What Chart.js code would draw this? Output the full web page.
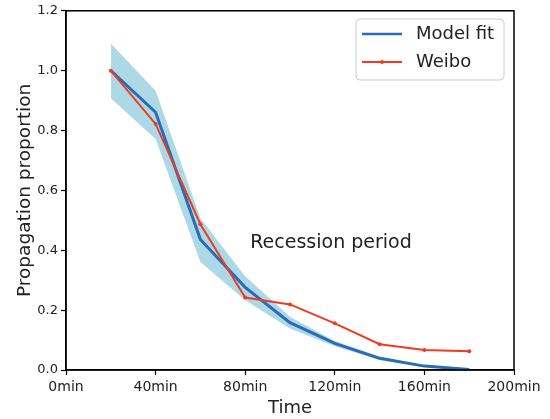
<!DOCTYPE html>
<html>
<head>
<meta charset="utf-8">
<script src="https://cdn.jsdelivr.net/npm/chart.js@4/dist/chart.umd.min.js"></script>
<style>
  html, body { margin: 0; padding: 0; background: #fff; }
  #wrap { width: 550px; height: 419px; }
</style>
</head>
<body>
<div id="wrap"><canvas id="propagationChart"></canvas></div>
<script>
const times = [20, 40, 60, 80, 100, 120, 140, 160, 180];
const modelFit = [1.0, 0.861, 0.436, 0.276, 0.158, 0.089, 0.039, 0.013, 0.002];
const bandUpper = [1.091, 0.933, 0.507, 0.313, 0.178, 0.097, 0.045, 0.016, 0.003];
const bandLower = [0.908, 0.772, 0.361, 0.233, 0.139, 0.079, 0.033, 0.010, 0.001];
const weibo = [1.0, 0.822, 0.487, 0.242, 0.219, 0.156, 0.086, 0.067, 0.063];
const xTicks = [0, 40, 80, 120, 160, 200];
const yTicks = [0, 0.2, 0.4, 0.6, 0.8, 1.0, 1.2];

const FONT = '"DejaVu Sans", sans-serif';
const BLUE = '#2b6cb5';
const RED = '#f03b20';

const toPoints = (ys) => times.map((t, i) => ({ x: t, y: ys[i] }));

const framePlugin = {
    id: 'frame',
    afterDraw(chart) {
        const { ctx, chartArea: a } = chart;
        ctx.save();
        ctx.strokeStyle = '#000';
        ctx.lineWidth = 1.5;
        ctx.strokeRect(a.left, a.top, a.right - a.left, a.bottom - a.top);

        // annotation
        ctx.fillStyle = '#222';
        ctx.font = '19px ' + FONT;
        ctx.textAlign = 'center';
        ctx.textBaseline = 'middle';
        const xs = chart.scales.x, ys = chart.scales.y;
        ctx.fillText('Recession period', xs.getPixelForValue(118.3), ys.getPixelForValue(0.423));

        // legend
        const lx = 356, ly = 19, lw = 148, lh = 61;
        ctx.beginPath();
        ctx.roundRect(lx, ly, lw, lh, 4);
        ctx.fillStyle = 'rgba(255,255,255,0.85)';
        ctx.fill();
        ctx.strokeStyle = '#cccccc';
        ctx.lineWidth = 1;
        ctx.stroke();

        ctx.lineWidth = 2.5;
        ctx.strokeStyle = BLUE;
        ctx.beginPath();
        ctx.moveTo(362, 34);
        ctx.lineTo(402, 34);
        ctx.stroke();

        ctx.lineWidth = 1.8;
        ctx.strokeStyle = RED;
        ctx.beginPath();
        ctx.moveTo(362, 62);
        ctx.lineTo(402, 62);
        ctx.stroke();
        ctx.fillStyle = RED;
        ctx.beginPath();
        ctx.arc(382, 62, 2, 0, Math.PI * 2);
        ctx.fill();

        ctx.fillStyle = '#222';
        ctx.textAlign = 'left';
        ctx.font = '18px ' + FONT;
        ctx.fillText('Model fit', 416, 34);
        ctx.fillText('Weibo', 416, 62);
        ctx.restore();
    },
};

new Chart(document.getElementById('propagationChart'), {
    type: 'line',
    data: {
        datasets: [
            {
                label: 'band upper',
                data: toPoints(bandUpper),
                borderWidth: 0,
                pointRadius: 0,
                backgroundColor: '#add8e6',
                fill: '+1',
                tension: 0,
                order: 3,
            },
            {
                label: 'band lower',
                data: toPoints(bandLower),
                borderWidth: 0,
                pointRadius: 0,
                backgroundColor: '#add8e6',
                fill: false,
                tension: 0,
                order: 4,
            },
            {
                label: 'Model fit',
                data: toPoints(modelFit),
                borderColor: BLUE,
                borderWidth: 3,
                pointRadius: 0,
                fill: false,
                tension: 0,
                order: 2,
            },
            {
                label: 'Weibo',
                data: toPoints(weibo),
                borderColor: RED,
                backgroundColor: RED,
                borderWidth: 2,
                pointRadius: 2,
                pointBorderWidth: 0,
                fill: false,
                tension: 0,
                order: 1,
            },
        ],
    },
    options: {
        responsive: true,
        maintainAspectRatio: false,
        animation: false,
        layout: { padding: { top: 10, right: 36, left: 0, bottom: 0 } },
        plugins: {
            legend: { display: false },
            tooltip: { enabled: false },
            filler: { drawTime: 'beforeDatasetsDraw' },
        },
        scales: {
            x: {
                type: 'linear',
                min: 0,
                max: 200,
                afterBuildTicks: (s) => { s.ticks = xTicks.map((v) => ({ value: v })); },
                afterFit: (s) => { s.height = 49; },
                grid: { drawOnChartArea: false, drawTicks: true, tickLength: 5, color: '#000', tickWidth: 1.2 },
                border: { display: true, color: '#000', width: 1.5 },
                ticks: {
                    color: '#222',
                    font: { family: FONT, size: 14 },
                    padding: 4,
                    maxRotation: 0,
                    callback: (v) => v + 'min',
                },
                title: {
                    display: true,
                    text: 'Time',
                    color: '#222',
                    font: { family: FONT, size: 18 },
                    padding: { top: 0, bottom: 0 },
                },
            },
            y: {
                min: 0,
                max: 1.2,
                afterBuildTicks: (s) => { s.ticks = yTicks.map((v) => ({ value: v })); },
                afterFit: (s) => { s.width = 66; },
                grid: { drawOnChartArea: false, drawTicks: true, tickLength: 5, color: '#000', tickWidth: 1.2 },
                border: { display: true, color: '#000', width: 1.5 },
                ticks: {
                    color: '#222',
                    font: { family: FONT, size: 13 },
                    padding: 3,
                    callback: (v) => v.toFixed(1),
                },
                title: {
                    display: true,
                    text: 'Propagation proportion',
                    color: '#222',
                    font: { family: FONT, size: 18.5 },
                    padding: { top: 14, bottom: 4 },
                },
            },
        },
    },
    plugins: [framePlugin],
});
</script>
</body>
</html>
